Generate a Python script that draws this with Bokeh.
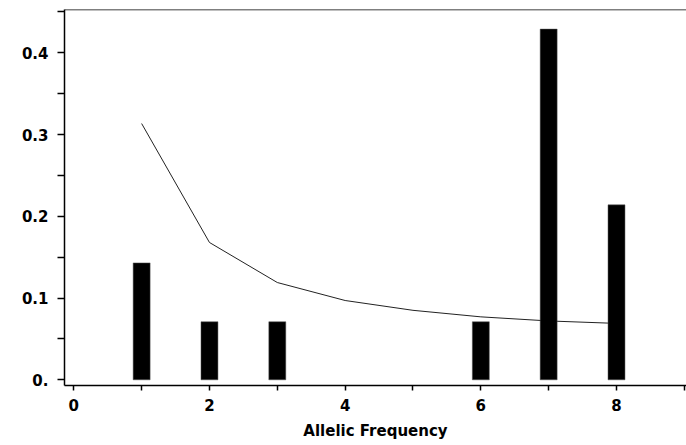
from bokeh.plotting import figure
from bokeh.models import FixedTicker, Range1d, Span
from bokeh.embed import file_html
from bokeh.resources import INLINE

# Data
bar_x = [1, 2, 3, 6, 7, 8]
bar_freq = [0.143, 0.071, 0.071, 0.071, 0.429, 0.214]
curve_x = [1, 2, 3, 4, 5, 6, 7, 8]
curve_y = [0.3135, 0.168, 0.119, 0.097, 0.085, 0.077, 0.072, 0.069]

x_major = [0, 2, 4, 6, 8]
x_minor = [1, 3, 5, 7, 9]
y_major = [0.0, 0.1, 0.2, 0.3, 0.4]
y_minor = [0.05, 0.15, 0.25, 0.35, 0.45]

p = figure(width=686, height=445, output_backend="svg", toolbar_location=None,
           x_range=Range1d(-0.137, 9.032), y_range=Range1d(-0.00697, 0.4530),
           min_border_left=64, min_border_right=0, min_border_top=9,
           min_border_bottom=60)
p.outline_line_color = None
p.xgrid.visible = False
p.ygrid.visible = False
p.background_fill_color = "white"
p.border_fill_color = "white"

p.line(curve_x, curve_y, line_color="#222222", line_width=1)
p.vbar(x=bar_x, top=bar_freq, bottom=0, width=0.25, fill_color="black",
       line_color="#555555", line_width=0.5)

top_line = Span(location=0.4530, dimension="width", line_color="black", line_width=1.5)
p.add_layout(top_line)

font = "DejaVu Sans"
for ax in (p.xaxis[0], p.yaxis[0]):
    ax.axis_line_color = "black"
    ax.axis_line_width = 1.5
    ax.major_tick_line_color = "black"
    ax.minor_tick_line_color = "black"
    ax.major_tick_line_width = 1.5
    ax.minor_tick_line_width = 1.5
    ax.major_tick_in = 0
    ax.minor_tick_in = 0
    ax.major_label_text_font = font
    ax.major_label_text_font_style = "bold"
    ax.major_label_text_font_size = "15px"
    ax.major_label_text_color = "black"

p.xaxis[0].ticker = FixedTicker(ticks=x_major, minor_ticks=x_minor)
p.xaxis[0].major_tick_out = 5
p.xaxis[0].minor_tick_out = 5
p.xaxis[0].major_label_standoff = 8
p.xaxis[0].axis_label = "Allelic Frequency"
p.xaxis[0].axis_label_text_font = font
p.xaxis[0].axis_label_text_font_style = "bold"
p.xaxis[0].axis_label_text_font_size = "15px"
p.xaxis[0].axis_label_text_color = "black"
p.xaxis[0].axis_label_standoff = 8

p.yaxis[0].ticker = FixedTicker(ticks=y_major, minor_ticks=y_minor)
p.yaxis[0].major_tick_out = 7
p.yaxis[0].minor_tick_out = 7
p.yaxis[0].major_label_standoff = 9
p.yaxis[0].major_label_overrides = {0: "0."}

open("out.html", "w").write(file_html(p, INLINE))
